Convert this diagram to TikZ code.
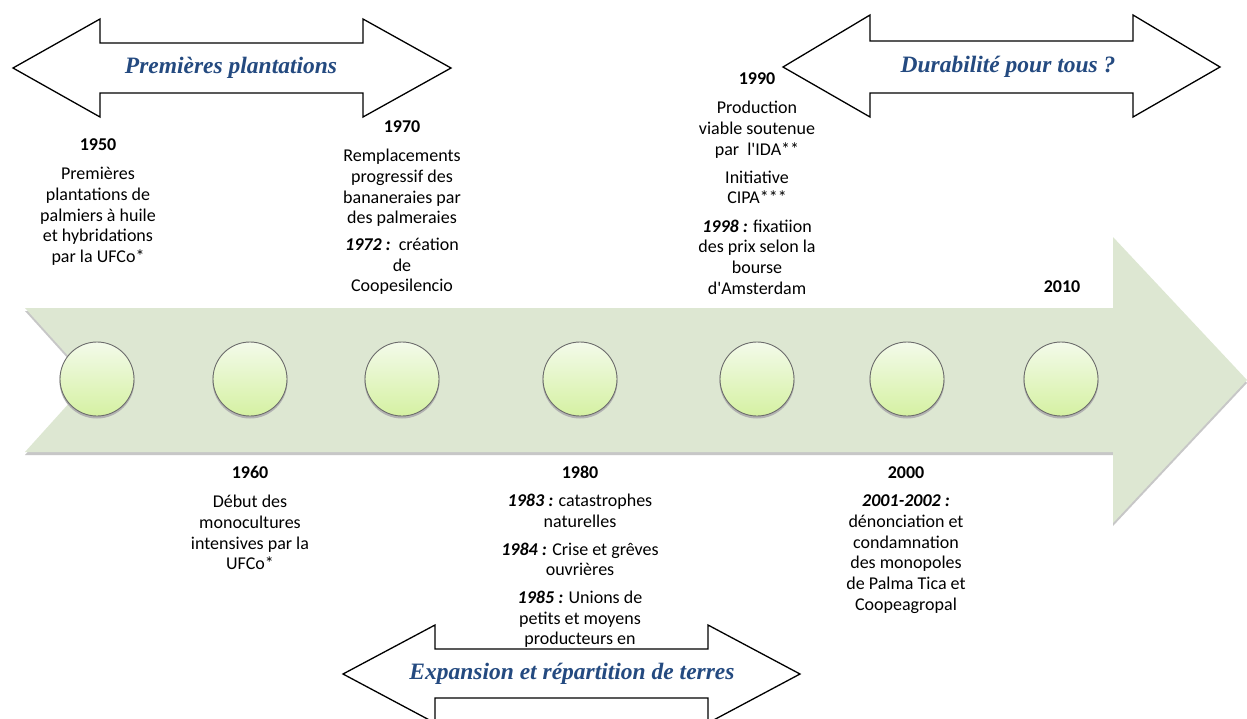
\documentclass[tikz,border=0pt]{standalone}
\usepackage{fontspec}
\setmainfont{Carlito}
\newfontfamily\labelfont{Liberation Serif}
\definecolor{bandfill}{RGB}{221,231,210}
\definecolor{labelblue}{RGB}{36,74,128}
\definecolor{circtop}{RGB}{243,250,234}
\definecolor{circbot}{RGB}{213,241,162}
\begin{document}
\begin{tikzpicture}[x=1pt,y=-1pt,
  dblarrow/.style={draw=black, line width=1.3pt, fill=white, line join=miter},
  periodlabel/.style={font=\labelfont\bfseries\itshape\fontsize{23.5}{27}\selectfont, text=labelblue, inner sep=0},
  milestone/.style={circle, minimum size=74pt, inner sep=0, draw=black!58, line width=0.9pt, top color=circtop, bottom color=circbot},
  eventtext/.style={font=\fontsize{18}{20.7}\selectfont, align=center, inner sep=0, anchor=north}]
\useasboundingbox (0,0) rectangle (1247,718);
\clip (0,0) rectangle (1247,718);
\fill[white] (0,0) rectangle (1247,718);

% main timeline arrow: soft shadow + body
\fill[black!22] (25,311) -- (1113,311) -- (1113,240) -- (1247,383) -- (1113,526) -- (1113,455) -- (25,455) -- (90,383) -- cycle;
\fill[bandfill] (25,308) -- (1113,308) -- (1113,237) -- (1247,380) -- (1113,523) -- (1113,452) -- (25,452) -- (90,380) -- cycle;

% milestones
\fill[black!30] (97,381) circle[radius=37.5];
\fill[black!30] (250,381) circle[radius=37.5];
\fill[black!30] (402,381) circle[radius=37.5];
\fill[black!30] (580,381) circle[radius=37.5];
\fill[black!30] (757,381) circle[radius=37.5];
\fill[black!30] (907,381) circle[radius=37.5];
\fill[black!30] (1061,381) circle[radius=37.5];
\node[milestone] (m1950) at (97,379) {};
\node[milestone] (m1960) at (250,379) {};
\node[milestone] (m1970) at (402,379) {};
\node[milestone] (m1980) at (580,379) {};
\node[milestone] (m1990) at (757,379) {};
\node[milestone] (m2000) at (907,379) {};
\node[milestone] (m2010) at (1061,379) {};

% texts above
\node[eventtext] (t1950) at (98,136.7) {\textbf{\rule{0pt}{14pt}1950}\\[8pt]
  Premières\\ plantations de\\ palmiers à huile\\ et hybridations\\ par la UFCo*};
\node[eventtext] (t1970) at (402,118.7) {\textbf{\rule{0pt}{14pt}1970}\\[8pt]
  Remplacements\\ progressif des\\ bananeraies par\\ des palmeraies\\[6pt]
  \textbf{\textit{1972 :}}\ \ création\\ de\\ Coopesilencio};
\node[eventtext] (t1990) at (757,70.7) {\textbf{\rule{0pt}{14pt}1990}\\[8pt]
  Production\\ viable soutenue\\ par\ \ l\textquotesingle IDA**\\[7.5pt]
  Initiative\\ CIPA***\\[7.5pt]
  \textbf{\textit{1998 :}} fixatiion\\ des prix selon la\\ bourse\\ d\textquotesingle Amsterdam};
\node[eventtext] (t2010) at (1062,278.7) {\textbf{\rule{0pt}{14pt}2010}};

% texts below
\node[eventtext] (t1960) at (250,464.7) {\textbf{\rule{0pt}{14pt}1960}\\[8pt]
  Début des\\ monocultures\\ intensives par la\\ UFCo*};
\node[eventtext] (t1980) at (580,464.7) {\textbf{\rule{0pt}{14pt}1980}\\[7pt]
  \textbf{\textit{1983 :}} catastrophes\\ naturelles\\[7pt]
  \textbf{\textit{1984 :}} Crise et grêves\\ ouvrières\\[7pt]
  \textbf{\textit{1985 :}} Unions de\\ petits et moyens\\ producteurs en};
\node[eventtext] (t2000) at (906,464.7) {\textbf{\rule{0pt}{14pt}2000}\\[7pt]
  \textbf{\textit{2001-2002 :}}\\ dénonciation et\\ condamnation\\ des monopoles\\ de Palma Tica et\\ Coopeagropal};

% period double arrows
\draw[dblarrow] (13,68) -- (100,19) -- (100,43) -- (363,43) -- (363,19) -- (451,68) -- (363,117) -- (363,93) -- (100,93) -- (100,117) -- cycle;
\node[periodlabel] (p1) at (231,68) {Premières plantations};

\draw[dblarrow] (783,67) -- (870,15) -- (870,41) -- (1133,41) -- (1133,15) -- (1220,67) -- (1133,117) -- (1133,93) -- (870,93) -- (870,117) -- cycle;
\node[periodlabel] (p2) at (1008,67) {Durabilité pour tous ?};

\draw[dblarrow] (343,674) -- (435,625) -- (435,649) -- (708,649) -- (708,625) -- (800,674) -- (708,723) -- (708,698) -- (435,698) -- (435,723) -- cycle;
\node[periodlabel] (p3) at (572,674) {Expansion et répartition de terres};
\end{tikzpicture}
\end{document}
